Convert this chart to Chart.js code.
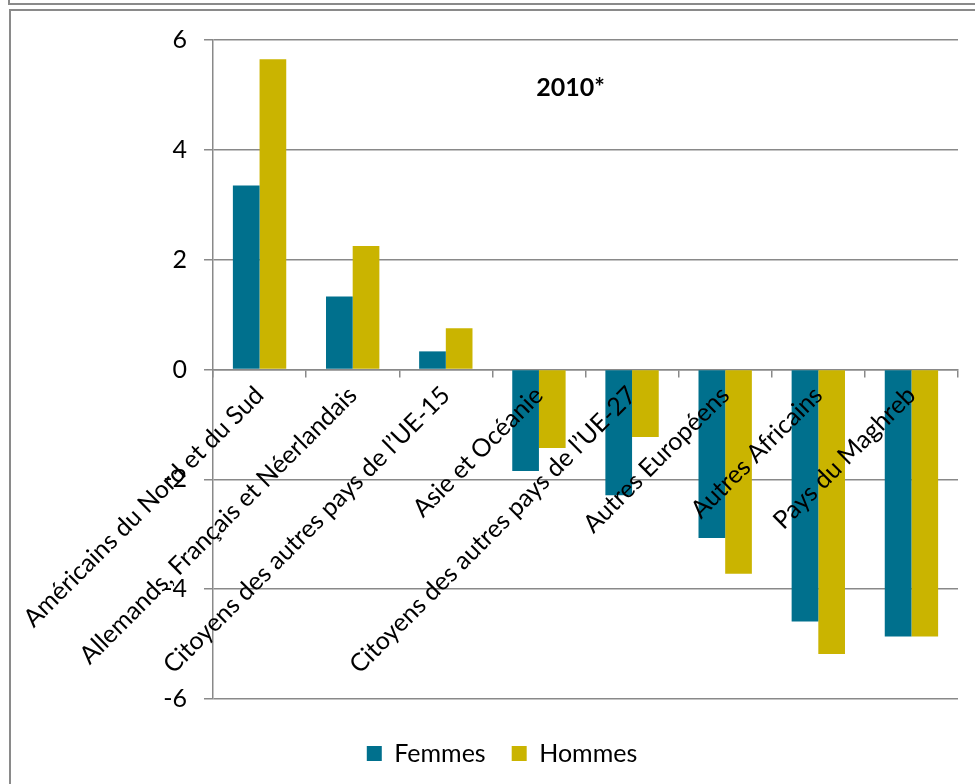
<!DOCTYPE html>
<html lang="fr">
<head>
<meta charset="utf-8">
<title>2010*</title>
<script src="https://cdn.jsdelivr.net/npm/chart.js@4.4.1/dist/chart.umd.min.js"></script>
<style>
  html, body { margin: 0; padding: 0; background: #fff; }
  .wrap { position: relative; width: 975px; height: 784px; overflow: hidden; }
  /* frame of the block above, and frame of this chart */
  .frame-top { position: absolute; left: 8px; top: -10px; right: -20px; height: 13px;
               border-left: 2px solid #8a8a8a; border-bottom: 2px solid #8a8a8a; }
  .frame { position: absolute; left: 9px; top: 9px; right: -20px; bottom: -20px;
           border-left: 2px solid #8a8a8a; border-top: 2px solid #8a8a8a; }
  canvas { position: absolute; left: 0; top: 0; }
</style>
</head>
<body>
<div class="wrap">
  <div class="frame-top"></div>
  <div class="frame"></div>
  <canvas id="chart" width="975" height="784"></canvas>
</div>
<script>
const categories = [
  'Américains du Nord et du Sud',
  'Allemands, Français et Néerlandais',
  'Citoyens des autres pays de l’UE-15',
  'Asie et Océanie',
  'Citoyens des autres pays de l’UE-27',
  'Autres Européens',
  'Autres Africains',
  'Pays du Maghreb'
];
const femmes = [3.35, 1.33, 0.33, -1.85, -2.29, -3.07, -4.59, -4.86];
const hommes = [5.65, 2.25, 0.75, -1.43, -1.23, -3.72, -5.18, -4.86];
const chartTitle = '2010*';

const TEAL = '#00708d';
const GOLD = '#cab400';
const GRID = '#898989';
const FONT = 'Lato, "Open Sans", sans-serif';

// title sits inside the plot area, near the top
const innerTitle = {
  id: 'innerTitle',
  afterDraw(chart) {
    const { ctx, chartArea: a } = chart;
    ctx.save();
    ctx.font = 'bold 25px ' + FONT;
    ctx.fillStyle = '#000';
    ctx.textAlign = 'center';
    ctx.textBaseline = 'middle';
    ctx.fillText(chartTitle, a.left + a.width * 0.48, a.top + 48);
    ctx.restore();
  }
};

// push the legend a bit lower and to the right
const legendShift = {
  id: 'legendShift',
  afterLayout(chart) {
    const lg = chart.legend;
    lg.top += 16;
    lg.bottom += 16;
    lg.left += 23;
    lg.right += 23;
  }
};

new Chart(document.getElementById('chart'), {
  type: 'bar',
  data: {
    labels: categories,
    datasets: [
      { label: 'Femmes', data: femmes, backgroundColor: TEAL },
      { label: 'Hommes', data: hommes, backgroundColor: GOLD }
    ]
  },
  options: {
    responsive: false,
    animation: false,
    devicePixelRatio: 1,
    categoryPercentage: 0.573,
    barPercentage: 1,
    layout: { padding: { left: 0, right: 17, top: 40, bottom: 24 } },
    scales: {
      x: {
        position: { y: 0 },
        offset: true,
        grid: { display: true, offset: true, drawOnChartArea: false, drawTicks: true, tickLength: 7, color: GRID, lineWidth: 1.5 },
        border: { display: true, color: GRID, width: 1.5 },
        ticks: {
          z: 1, // category names over the bars
          color: '#000',
          font: { family: FONT, size: 25 },
          minRotation: 45,
          maxRotation: 45,
          autoSkip: false,
          padding: 4
        }
      },
      y: {
        min: -6,
        max: 6,
        afterFit(scale) { scale.width = 213; },
        grid: { color: GRID, lineWidth: 1.5, tickLength: 9 },
        border: { display: true, color: GRID, width: 1.5 },
        ticks: { stepSize: 2, color: '#000', font: { family: FONT, size: 25 }, padding: 17 }
      }
    },
    plugins: {
      tooltip: { enabled: false },
      legend: {
        position: 'bottom',
        labels: {
          color: '#000',
          font: { family: FONT, size: 25 },
          boxWidth: 15,
          boxHeight: 15,
          padding: 26
        }
      }
    }
  },
  plugins: [innerTitle, legendShift]
});
</script>
</body>
</html>
